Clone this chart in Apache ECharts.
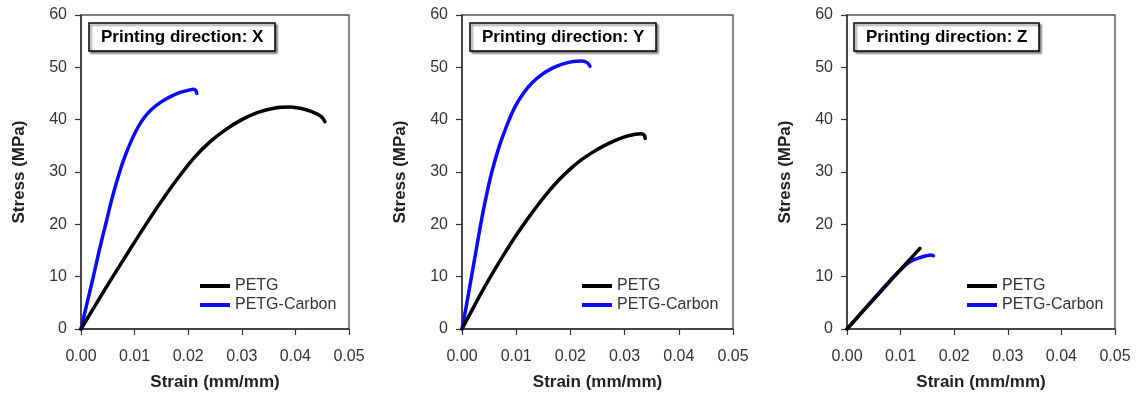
<!DOCTYPE html>
<html>
<head>
<meta charset="utf-8">
<script src="https://cdn.jsdelivr.net/npm/echarts@6/dist/echarts.min.js"></script>
<style>
  html, body { margin: 0; padding: 0; background: #fff; }
  #chart { width: 1136px; height: 396px; }
</style>
</head>
<body>
<div id="chart"></div>
<script>
// Stress-strain curves, [strain (mm/mm), stress (MPa)]
const petgX = [[0, 0], [0.003, 5.1], [0.006, 10.1], [0.009, 15.0], [0.012, 19.8], [0.015, 24.4], [0.018, 28.7], [0.021, 32.6], [0.024, 35.7], [0.027, 38.1], [0.030, 40.0], [0.033, 41.4], [0.036, 42.2], [0.039, 42.4], [0.042, 41.9], [0.044, 41.1], [0.045, 40.4], [0.0455, 39.6]]
const carbonX = [[0, 0], [0.00114, 5], [0.0023, 10], [0.0034, 15], [0.0046, 20], [0.0058, 25], [0.0072, 30], [0.0082, 33], [0.0094, 36], [0.0106, 38.5], [0.0118, 40.4], [0.0130, 41.8], [0.0147, 43.2], [0.0165, 44.3], [0.0185, 45.2], [0.0203, 45.7], [0.0210, 45.8], [0.0214, 45.6], [0.0216, 45.0]]
const petgY = [[0, 0], [0.002, 3.9], [0.004, 7.7], [0.006, 11.3], [0.008, 14.7], [0.010, 17.9], [0.012, 20.9], [0.014, 23.7], [0.016, 26.3], [0.018, 28.6], [0.020, 30.6], [0.022, 32.3], [0.024, 33.7], [0.026, 34.9], [0.028, 35.9], [0.030, 36.7], [0.032, 37.2], [0.033, 37.3], [0.0336, 37.1], [0.0338, 36.4]]
const carbonY = [[0, 0], [0.0009, 5], [0.00175, 10], [0.0026, 15], [0.00345, 20], [0.0044, 25], [0.0055, 30], [0.0069, 35], [0.0085, 39.5], [0.0098, 42.5], [0.0113, 45], [0.0129, 47], [0.0147, 48.6], [0.0166, 49.8], [0.0185, 50.6], [0.0205, 51.1], [0.0220, 51.2], [0.0231, 50.9], [0.0236, 50.2]]
const petgZ = [[0, 0], [0.0044, 5], [0.0088, 10], [0.0136, 15.4]]
const carbonZ = [[0, 0], [0.0043, 5], [0.0087, 10], [0.0100, 11.3], [0.0111, 12.4], [0.0122, 13.1], [0.0136, 13.65], [0.0148, 14.0], [0.0156, 14.15], [0.0161, 14.0]]

const panelTitles = ['Printing direction: X', 'Printing direction: Y', 'Printing direction: Z']
const seriesNames = ['PETG', 'PETG-Carbon']
const yTicks = [0, 10, 20, 30, 40, 50, 60]
const xTicks = [0, 0.01, 0.02, 0.03, 0.04, 0.05]

const font = "'Liberation Sans', Arial, sans-serif"
const black = '#000000'
const blue = '#0a0aff'

const chart = echarts.init(document.getElementById('chart'))

const grids = [
  { left: 81, top: 15, width: 268, height: 315 },
  { left: 462, top: 15, width: 271, height: 315 },
  { left: 847, top: 15, width: 268, height: 315 }
]
const titlePos = [[89, 23], [470, 23], [854, 23]]
const legendPos = [[200, 278], [582, 278], [967, 278]]

const option = {
  animation: false,
  backgroundColor: '#fff',
  title: panelTitles.map((t, i) => ({
    text: t,
    left: titlePos[i][0],
    top: titlePos[i][1],
    padding: [5, 12],
    backgroundColor: '#fff',
    borderColor: '#000',
    borderWidth: 1.5,
    shadowColor: 'rgba(0,0,0,0.45)',
    shadowOffsetX: 2,
    shadowOffsetY: 2,
    shadowBlur: 2,
    textStyle: { fontFamily: font, fontSize: 17, fontWeight: 'bold', color: '#000', lineHeight: 18 }
  })),
  legend: legendPos.map(p => ({
    data: seriesNames,
    orient: 'vertical',
    left: p[0],
    top: p[1],
    icon: 'rect',
    itemWidth: 30,
    itemHeight: 4,
    itemGap: 3,
    padding: 0,
    textStyle: { fontFamily: font, fontSize: 16, color: '#333', lineHeight: 15 }
  })),
  grid: grids.map(g => ({ ...g, show: true, borderColor: '#555', borderWidth: 1.4 })),
  xAxis: grids.map((g, i) => ({
    type: 'value',
    gridIndex: i,
    min: xTicks[0],
    max: xTicks[xTicks.length - 1],
    interval: 0.01,
    name: 'Strain (mm/mm)',
    nameLocation: 'middle',
    nameGap: 45,
    nameTextStyle: { fontFamily: font, fontSize: 17, fontWeight: 'bold', color: '#222' },
    axisLine: { show: true, onZero: false, lineStyle: { color: '#333', width: 1.5 } },
    axisTick: { show: true, inside: false, length: 6, lineStyle: { color: '#333', width: 1.2 } },
    axisLabel: { margin: 20, fontFamily: font, fontSize: 16, color: '#333', formatter: v => v.toFixed(2) },
    splitLine: { show: false }
  })),
  yAxis: grids.map((g, i) => ({
    type: 'value',
    gridIndex: i,
    min: yTicks[0],
    max: yTicks[yTicks.length - 1],
    interval: 10,
    name: 'Stress (MPa)',
    nameLocation: 'middle',
    nameGap: 53,
    nameTextStyle: { fontFamily: font, fontSize: 17, fontWeight: 'bold', color: '#222' },
    axisLine: { show: true, onZero: false, lineStyle: { color: '#333', width: 1.5 } },
    axisTick: { show: true, inside: false, length: 6, lineStyle: { color: '#333', width: 1.2 } },
    axisLabel: { margin: 14, fontFamily: font, fontSize: 16, color: '#333' },
    splitLine: { show: false }
  })),
  series: []
}

const panels = [[petgX, carbonX], [petgY, carbonY], [petgZ, carbonZ]]
panels.forEach((pair, i) => {
  pair.forEach((data, k) => {
    option.series.push({
      name: seriesNames[k],
      type: 'line',
      xAxisIndex: i,
      yAxisIndex: i,
      data: data,
      smooth: 0.3,
      showSymbol: false,
      z: k === 0 ? 3 : 2,
      color: k === 0 ? black : blue,
      lineStyle: { width: 3.5, color: k === 0 ? black : blue, cap: 'round', join: 'round' }
    })
  })
})

chart.setOption(option)
</script>
</body>
</html>
